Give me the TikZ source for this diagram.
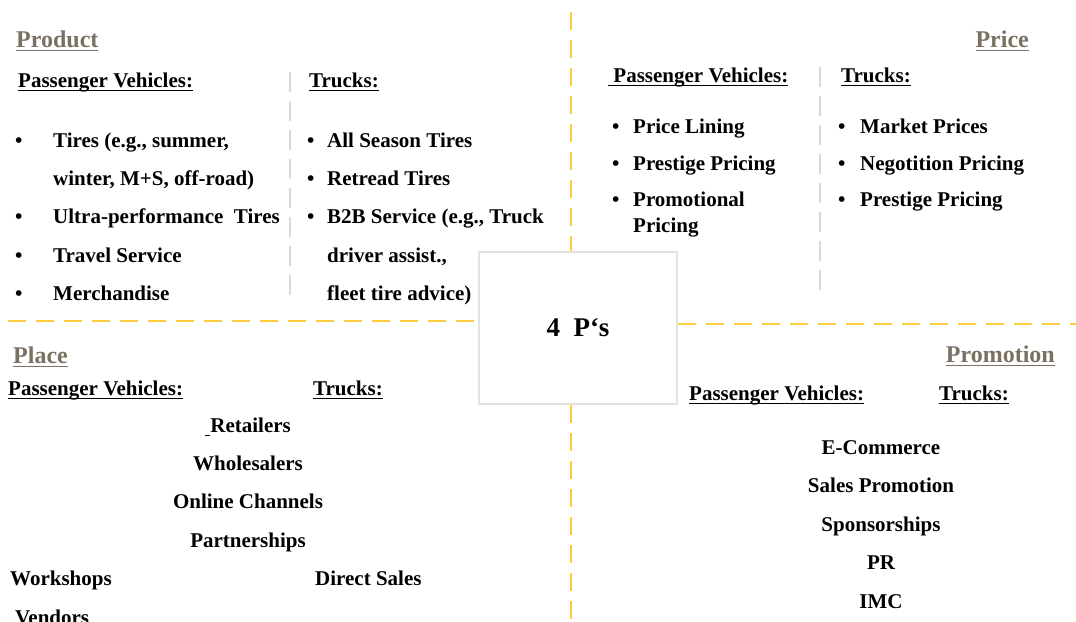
\documentclass[tikz,border=0pt]{standalone}
\usepackage{fontspec}
\setmainfont{Liberation Serif}
\newcommand{\ulin}[1]{\leavevmode\setbox0\hbox{#1}\rlap{\vrule height -2.6pt depth 4pt width \wd0}\box0}
\definecolor{gold}{RGB}{255,204,60}
\definecolor{splitgray}{RGB}{217,217,217}
\definecolor{boxgray}{RGB}{228,228,222}
\definecolor{titlegray}{RGB}{122,113,98}

\begin{document}
\begin{tikzpicture}[
        x=1pt, y=-1pt,
        every node/.style={inner sep=0pt, font=\bfseries\fontsize{21}{25}\selectfont},
        title/.style={text=titlegray, font=\bfseries\fontsize{24}{28}\selectfont},
        head/.style={anchor=base west},
        item/.style={anchor=base west},
        mid/.style={anchor=base},
        pbox/.style={draw=boxgray, line width=1.2pt, fill=white, minimum width=198pt,
            minimum height=152pt, font=\bfseries\fontsize{27}{32}\selectfont},
        quad/.style={draw=gold, line width=2.3pt, dash pattern=on 18pt off 10pt},
        split/.style={draw=splitgray, line width=2pt, dash pattern=on 20pt off 9pt}
        ]
        \useasboundingbox (0,0) rectangle (1076,621);

        % centre box and the four quadrants
        \coordinate (top)    at (571,12);
        \coordinate (bottom) at (571,621);
        \coordinate (left)   at (8,321);
        \coordinate (right)  at (1076,324);
        \node[pbox] (fourp) at (578,328) {4\hskip.5em P‘s};
        \draw[quad] (top) -- (top |- fourp.north);
        \draw[quad] (bottom |- fourp.south) -- (bottom);
        \draw[quad] (left) -- (left -| fourp.west);
        \draw[quad] (right -| fourp.east) -- (right);

        % Product
        \node[title, anchor=base west] (product) at (16,47) {\ulin{Product}};
        \node[head] (prodpv) at (18,87)  {\ulin{Passenger Vehicles:}};
        \node[head] (prodtr) at (309,87) {\ulin{Trucks:}};
        \coordinate (prodsplit)    at (290,72);
        \coordinate (prodsplitend) at (290,300);
        \draw[split] (prodsplit) -- (prodsplitend);
        \foreach \txt [count=\i] in {{Tires (e.g., summer,}, {winter, M+S, off-road)},
            {Ultra-performance\ \ Tires}, {Travel Service}, {Merchandise}}
            \node[item] (prodpvt\i) at (53,108.6+38.4*\i) {\txt};
        \foreach \i in {1,3,4,5}
            \node[item] (prodpvb\i) at (15,108.6+38.4*\i) {\textbullet};
        \foreach \txt [count=\i] in {{All Season Tires}, {Retread Tires},
            {B2B Service (e.g., Truck}, {driver assist.,}, {fleet tire advice)}}
            \node[item] (prodtrt\i) at (327,108.6+38.4*\i) {\txt};
        \foreach \i in {1,2,3}
            \node[item] (prodtrb\i) at (307,108.6+38.4*\i) {\textbullet};

        % Price
        \node[title, anchor=base east] (price) at (1029,47) {\ulin{Price}};
        \node[head] (pricepv) at (608,82) {\ulin{\ Passenger Vehicles:}};
        \node[head] (pricetr) at (841,82) {\ulin{Trucks:}};
        \coordinate (pricesplit)    at (820,67);
        \coordinate (pricesplitend) at (820,295);
        \draw[split] (pricesplit) -- (pricesplitend);
        \foreach \txt/\yy [count=\i] in {{Price Lining}/133, {Prestige Pricing}/170,
            {Promotional}/206, {Pricing}/232}
            \node[item] (pricepvt\i) at (633,\yy) {\txt};
        \foreach \txt/\yy [count=\i] in {{Market Prices}/133, {Negotition Pricing}/170,
            {Prestige Pricing}/206}
            \node[item] (pricetrt\i) at (860,\yy) {\txt};
        \foreach \yy [count=\i] in {133,170,206} {
            \node[item] (pricepvb\i) at (612,\yy) {\textbullet};
            \node[item] (pricetrb\i) at (838,\yy) {\textbullet};
        }

        % Place
        \node[title, anchor=base west] (place) at (13,363) {\ulin{Place}};
        \node[head] (placepv) at (8,395)   {\ulin{Passenger Vehicles:}};
        \node[head] (placetr) at (313,395) {\ulin{Trucks:}};
        \node[mid] (retail)  at (248,432) {\ulin{\ }Retailers};
        \node[mid] (whole)   at (248,470) {Wholesalers};
        \node[mid] (online)  at (248,508) {Online Channels};
        \node[mid] (partner) at (248,547) {Partnerships};
        \node[item] (workshop) at (10,585)  {Workshops};
        \node[item] (direct)   at (315,585) {Direct Sales};
        \node[item] (vendor)   at (15,624)  {Vendors};

        % Promotion
        \node[title, anchor=base east] (promotion) at (1055,362) {\ulin{Promotion}};
        \node[head] (promopv) at (689,400) {\ulin{Passenger Vehicles:}};
        \node[head] (promotr) at (939,400) {\ulin{Trucks:}};
        \foreach \txt [count=\i] in {E-Commerce, Sales Promotion, Sponsorships, PR, IMC}
            \node[mid] (promo\i) at (881,415.5+38.5*\i) {\txt};
      \end{tikzpicture}
\end{document}
